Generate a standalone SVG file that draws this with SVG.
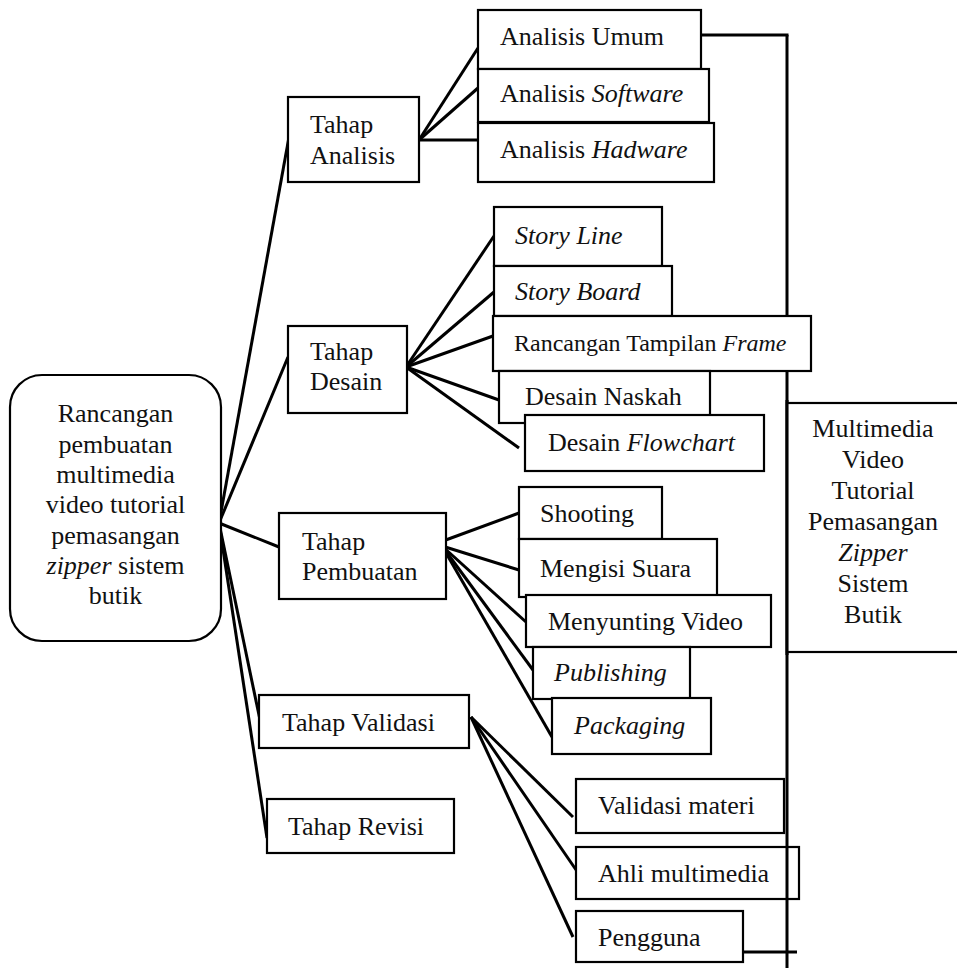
<svg xmlns="http://www.w3.org/2000/svg" width="957" height="968" viewBox="0 0 957 968" font-family="'Liberation Serif', 'Times New Roman', Tinos, serif">
<style>
.b{fill:#fff;stroke:#000;stroke-width:2.2}
.t{font-family:'Liberation Serif','Times New Roman',Tinos,serif;font-size:26px;fill:#111}
.c{text-anchor:middle}
.s{font-size:24px}
.c1{stroke:#000;stroke-width:3;fill:none;stroke-linecap:butt}
</style>
<rect width="957" height="968" fill="#fff"/>
<g id="connectors">
<line class="c1" x1="787" y1="35" x2="787" y2="968"/>
<line class="c1" x1="701" y1="35" x2="788.5" y2="35"/>
<line class="c1" x1="743" y1="952" x2="797" y2="952"/>
<line class="c1" x1="219" y1="523" x2="289" y2="137"/>
<line class="c1" x1="219" y1="523" x2="288" y2="357"/>
<line class="c1" x1="219" y1="523" x2="279" y2="547"/>
<line class="c1" x1="219" y1="523" x2="260" y2="720"/>
<line class="c1" x1="219" y1="523" x2="267" y2="838"/>
<line class="c1" x1="419" y1="140" x2="478" y2="48"/>
<line class="c1" x1="419" y1="140" x2="478" y2="88"/>
<line class="c1" x1="419" y1="140" x2="478" y2="140"/>
<line class="c1" x1="406" y1="367" x2="494" y2="236"/>
<line class="c1" x1="406" y1="367" x2="494" y2="292"/>
<line class="c1" x1="406" y1="367" x2="493" y2="336"/>
<line class="c1" x1="406" y1="367" x2="499" y2="400"/>
<line class="c1" x1="406" y1="367" x2="519" y2="448"/>
<line class="c1" x1="443" y1="541" x2="519" y2="513"/>
<line class="c1" x1="442" y1="546" x2="519" y2="570"/>
<line class="c1" x1="442" y1="546" x2="526" y2="622"/>
<line class="c1" x1="442" y1="546" x2="533" y2="670"/>
<line class="c1" x1="442" y1="546" x2="552" y2="737"/>
<line class="c1" x1="471" y1="717" x2="573" y2="817"/>
<line class="c1" x1="471" y1="717" x2="583" y2="880"/>
<line class="c1" x1="471" y1="717" x2="573" y2="937"/>
</g>
<g id="root">
<rect class="b" x="10" y="375" width="211" height="266" rx="32" ry="32"/>
<text class="t c" x="115.5" y="422">Rancangan</text>
<text class="t c" x="115.5" y="452.5">pembuatan</text>
<text class="t c" x="115.5" y="483">multimedia</text>
<text class="t c" x="115.5" y="513">video tutorial</text>
<text class="t c" x="115.5" y="543.5">pemasangan</text>
<text class="t c" x="115.5" y="574"><tspan font-style="italic">zipper</tspan> sistem</text>
<text class="t c" x="115.5" y="604">butik</text>
</g>
<g id="tahap-analisis">
<rect class="b" x="288" y="97" width="131" height="85"/>
<text class="t" x="310" y="133">Tahap</text>
<text class="t" x="310" y="164">Analisis</text>
</g>
<g id="analisis-umum">
<rect class="b" x="478" y="10" width="223" height="59"/>
<text class="t" x="500" y="45">Analisis Umum</text>
</g>
<g id="analisis-software">
<rect class="b" x="478" y="69" width="231" height="53"/>
<text class="t" x="500" y="102">Analisis <tspan font-style="italic">Software</tspan></text>
</g>
<g id="analisis-hadware">
<rect class="b" x="478" y="123" width="236" height="59"/>
<text class="t" x="500" y="158">Analisis <tspan font-style="italic">Hadware</tspan></text>
</g>
<g id="tahap-desain">
<rect class="b" x="288" y="326" width="119" height="87"/>
<text class="t" x="310" y="360">Tahap</text>
<text class="t" x="310" y="390">Desain</text>
</g>
<g id="story-line">
<rect class="b" x="494" y="207" width="168" height="59"/>
<text class="t" x="515" y="244" font-style="italic">Story Line</text>
</g>
<g id="story-board">
<rect class="b" x="494" y="266" width="178" height="50"/>
<text class="t" x="515" y="300" font-style="italic">Story Board</text>
</g>
<g id="rancangan-frame">
<rect class="b" x="493" y="316" width="318" height="55"/>
<text class="t s" x="514" y="351">Rancangan Tampilan <tspan font-style="italic">Frame</tspan></text>
</g>
<g id="desain-naskah">
<rect class="b" x="499" y="371" width="211" height="52"/>
<text class="t" x="525" y="405">Desain Naskah</text>
</g>
<g id="desain-flowchart">
<rect class="b" x="525" y="415" width="239" height="56"/>
<text class="t" x="548" y="451">Desain <tspan font-style="italic">Flowchart</tspan></text>
</g>
<g id="tahap-pembuatan">
<rect class="b" x="279" y="513" width="167" height="86"/>
<text class="t" x="302" y="550">Tahap</text>
<text class="t" x="302" y="580">Pembuatan</text>
</g>
<g id="shooting">
<rect class="b" x="519" y="487" width="143" height="52"/>
<text class="t" x="540" y="522">Shooting</text>
</g>
<g id="mengisi-suara">
<rect class="b" x="519" y="539" width="198" height="58"/>
<text class="t" x="540" y="577">Mengisi Suara</text>
</g>
<g id="menyunting-video">
<rect class="b" x="526" y="595" width="245" height="52"/>
<text class="t" x="548" y="630">Menyunting Video</text>
</g>
<g id="publishing">
<rect class="b" x="533" y="647" width="157" height="52"/>
<text class="t" x="554" y="681" font-style="italic">Publishing</text>
</g>
<g id="packaging">
<rect class="b" x="552" y="698" width="159" height="56"/>
<text class="t" x="574" y="734" font-style="italic">Packaging</text>
</g>
<g id="tahap-validasi">
<rect class="b" x="259" y="695" width="210" height="53"/>
<text class="t" x="282" y="731">Tahap Validasi</text>
</g>
<g id="tahap-revisi">
<rect class="b" x="267" y="799" width="187" height="54"/>
<text class="t" x="288" y="835">Tahap Revisi</text>
</g>
<g id="validasi-materi">
<rect class="b" x="576" y="779" width="208" height="54"/>
<text class="t" x="598" y="814">Validasi materi</text>
</g>
<g id="ahli-multimedia">
<rect fill="#fff" x="576" y="847" width="223" height="52"/>
<line class="c1" x1="787" y1="847" x2="787" y2="899"/>
<rect fill="none" stroke="#000" stroke-width="2.2" x="576" y="847" width="223" height="52"/>
<text class="t" x="598" y="882">Ahli multimedia</text>
</g>
<g id="pengguna">
<rect class="b" x="576" y="911" width="167" height="51"/>
<text class="t" x="598" y="946">Pengguna</text>
</g>
<g id="multimedia-video">
<rect class="b" x="787" y="403" width="180" height="249"/>
<line class="c1" x1="787" y1="400" x2="787" y2="655"/>
<text class="t c" x="873" y="437">Multimedia</text>
<text class="t c" x="873" y="468">Video</text>
<text class="t c" x="873" y="499">Tutorial</text>
<text class="t c" x="873" y="530">Pemasangan</text>
<text class="t c" x="873" y="561" font-style="italic">Zipper</text>
<text class="t c" x="873" y="592">Sistem</text>
<text class="t c" x="873" y="623">Butik</text>
</g>
</svg>
